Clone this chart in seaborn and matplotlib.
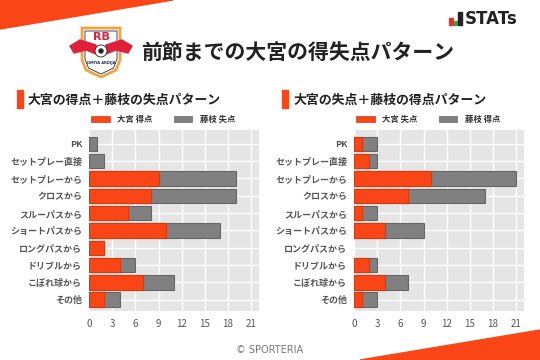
import numpy as np
import pandas as pd
import matplotlib
matplotlib.use("Agg")
import matplotlib.pyplot as plt
import seaborn as sns
from matplotlib.patches import Polygon, Rectangle, Circle, Ellipse

categories = ["PK", "セットプレー直接", "セットプレーから", "クロスから", "スルーパスから",
              "ショートパスから", "ロングパスから", "ドリブルから", "こぼれ球から", "その他"]
omiya_scored = [0, 0, 9, 8, 5, 10, 2, 4, 7, 2]
fujieda_conceded = [1, 2, 10, 11, 3, 7, 0, 2, 4, 2]
omiya_conceded = [1, 2, 10, 7, 1, 4, 0, 2, 4, 1]
fujieda_scored = [2, 1, 11, 10, 2, 5, 0, 1, 3, 2]
x_ticks = [0, 3, 6, 9, 12, 15, 18, 21]

title = "前節までの大宮の得失点パターン"
sub_left = "大宮の得点＋藤枝の失点パターン"
sub_right = "大宮の失点＋藤枝の得点パターン"
leg_left = ["大宮 得点", "藤枝 失点"]
leg_right = ["大宮 失点", "藤枝 得点"]

ORANGE = "#FA4616"
GRAY = "#808080"

sns.set_theme(style="darkgrid")
plt.rcParams["font.family"] = ["Noto Sans CJK JP", "DejaVu Sans"]

W, H = 540, 360
fig = plt.figure(figsize=(5.4, 3.6), dpi=100)
fig.patch.set_facecolor("white")

def fx(x):
    return x / W

def fy(y):
    return 1 - y / H

def draw_panel(left_px, first, second, sub, legs, sub_bar_x, sub_x, leg_px):
    df = pd.DataFrame({"cat": categories, "first": first,
                       "total": np.array(first) + np.array(second)})
    ax = fig.add_axes([fx(left_px), fy(311), 170 / W, (311 - 130) / H])
    ax.set_facecolor("#E5E5E5")
    sns.barplot(data=df, y="cat", x="total", color=GRAY, saturation=1, width=0.84,
                edgecolor="#666666", linewidth=0.8, ax=ax, orient="h")
    sns.barplot(data=df, y="cat", x="first", color=ORANGE, saturation=1, width=0.84,
                edgecolor="#D23A10", linewidth=0.8, ax=ax, orient="h")
    for p in ax.patches:
        if p.get_width() == 0:
            p.set_visible(False)
    ax.set_xlim(0, 22)
    ax.set_ylim(9.65, -0.8)
    ax.set_xticks(x_ticks)
    ax.set_xlabel("")
    ax.set_ylabel("")
    ax.grid(True, color="white", linewidth=1.0)
    ax.set_axisbelow(True)
    for s in ax.spines.values():
        s.set_visible(False)
    ax.tick_params(axis="both", length=0, pad=5)
    ax.tick_params(axis="x", labelsize=7, labelcolor="#555555", pad=6)
    ax.tick_params(axis="y", labelsize=6.5, labelcolor="#555555", pad=5)
    for t in ax.get_yticklabels():
        t.set_fontweight("bold")
    # subtitle
    fig.patches.append(Rectangle((fx(sub_bar_x), fy(108)), 6 / W, 18 / H,
                                 transform=fig.transFigure, color=ORANGE, zorder=3))
    fig.text(fx(sub_x), fy(100), sub, fontsize=9.3, fontweight="bold",
             color="#222222", va="center", ha="left")
    # legend
    cols = [ORANGE, GRAY]
    for (px0, px1, tx), lab, c in zip(leg_px, legs, cols):
        fig.patches.append(Rectangle((fx(px0), fy(122)), (px1 - px0) / W, 6 / H,
                                     transform=fig.transFigure, facecolor=c,
                                     edgecolor="#666666" if c == GRAY else "#D23A10",
                                     linewidth=0.5, zorder=3))
        fig.text(fx(tx), fy(119.5), lab, fontsize=6, fontweight="bold",
                 color="#333333", va="center", ha="left")
    return ax

draw_panel(89, omiya_scored, fujieda_conceded, sub_left, leg_left, 17, 28,
           [(91, 110, 117), (174, 192, 200)])
draw_panel(354, omiya_conceded, fujieda_scored, sub_right, leg_right, 282, 293,
           [(356, 375, 382), (439, 457, 465)])

# decorative orange bands
fig.patches.append(Polygon([(fx(0), fy(0)), (fx(173), fy(0)), (fx(0), fy(29))],
                           closed=True, transform=fig.transFigure, color=ORANGE, zorder=1))
fig.patches.append(Polygon([(fx(360), fy(360)), (fx(540), fy(330)), (fx(540), fy(360))],
                           closed=True, transform=fig.transFigure, color=ORANGE, zorder=1))

# title
fig.text(fx(141), fy(52), title, fontsize=15, fontweight="bold", color="#222222",
         va="center", ha="left")

# STATs logo
fig.patches.append(Rectangle((fx(449), fy(25)), 4 / W, 7 / H, transform=fig.transFigure,
                             color="#E8302A", zorder=3))
fig.patches.append(Rectangle((fx(454), fy(25)), 3 / W, 4 / H, transform=fig.transFigure,
                             color="#2EA84A", zorder=3))
fig.patches.append(Rectangle((fx(458), fy(25)), 4 / W, 13 / H, transform=fig.transFigure,
                             color="#222222", zorder=3))
fig.text(fx(465), fy(18.5), "STATs", fontsize=12, fontweight="bold", color="#222222",
         va="center", ha="left", family="DejaVu Sans")

# club emblem (approximation)
shield = [(82, 28), (120, 28), (120, 60), (116, 70), (101, 77), (86, 70), (82, 60)]
fig.patches.append(Polygon([(fx(x), fy(y)) for x, y in shield], closed=True,
                           transform=fig.transFigure, facecolor="white",
                           edgecolor="#F2A33A", linewidth=2.0, zorder=3))
inner = [(85, 31), (117, 31), (117, 59), (113.5, 68), (101, 74), (88.5, 68), (85, 59)]
fig.patches.append(Polygon([(fx(x), fy(y)) for x, y in inner], closed=True,
                           transform=fig.transFigure, facecolor="white",
                           edgecolor="#1C2A5A", linewidth=0.6, zorder=3))
for wing in ([(70, 46), (80, 40), (96, 45), (96, 54), (86, 50), (74, 53)],
             [(132, 46), (122, 40), (106, 45), (106, 54), (116, 50), (128, 53)]):
    fig.patches.append(Polygon([(fx(x), fy(y)) for x, y in wing], closed=True,
                               transform=fig.transFigure, color="#E0203A", zorder=4))
fig.patches.append(Ellipse((fx(101), fy(51)), 12 / W, 12 / H, transform=fig.transFigure,
                           facecolor="white", edgecolor="#222222", linewidth=0.6, zorder=5))
fig.patches.append(Ellipse((fx(101), fy(51)), 4 / W, 4 / H, transform=fig.transFigure,
                           color="#222222", zorder=6))
fig.text(fx(101), fy(37), "RB", fontsize=8, fontweight="bold", color="#E0203A",
         ha="center", va="center", family="DejaVu Sans", zorder=6)
fig.text(fx(101), fy(63), "OMIYA ARDIJA", fontsize=2.6, fontweight="bold", color="#1C2A5A",
         ha="center", va="center", family="DejaVu Sans", zorder=6)

# copyright
fig.text(fx(270), fy(350), "© SPORTERIA", fontsize=7, color="#777777",
         ha="center", va="center", family="DejaVu Sans")

fig.savefig("out.png", dpi=100)
